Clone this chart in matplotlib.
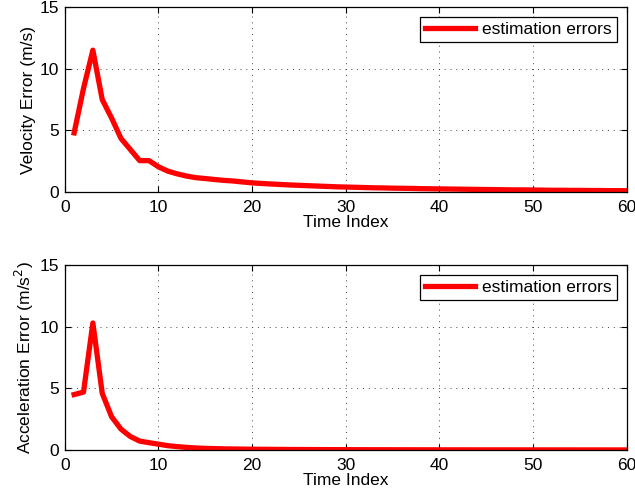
import numpy as np
import matplotlib
matplotlib.use("Agg")
import matplotlib.pyplot as plt

plt.rcParams["font.family"] = ["Liberation Sans", "DejaVu Sans"]
plt.rcParams["font.size"] = 12.5

# time index 1..60
time_index = list(range(1, 61))

# velocity estimation errors (m/s)
velocity_error = [
    4.8, 8.4, 11.5, 7.5, 6.0, 4.35, 3.45, 2.55, 2.55, 2.05,
    1.7, 1.48, 1.3, 1.17, 1.1, 1.02, 0.95, 0.9, 0.82, 0.75,
    0.7, 0.66, 0.62, 0.58, 0.55, 0.52, 0.49, 0.46, 0.43, 0.41,
    0.39, 0.37, 0.35, 0.34, 0.32, 0.31, 0.3, 0.28, 0.27, 0.26,
    0.25, 0.24, 0.23, 0.22, 0.21, 0.2, 0.19, 0.18, 0.18, 0.17,
    0.16, 0.15, 0.15, 0.14, 0.14, 0.13, 0.13, 0.12, 0.12, 0.11,
]

# acceleration estimation errors (m/s^2)
acceleration_error = [
    4.5, 4.7, 10.3, 4.6, 2.7, 1.7, 1.1, 0.73, 0.6, 0.48,
    0.36, 0.28, 0.22, 0.17, 0.14, 0.12, 0.1, 0.09, 0.08, 0.07,
    0.065, 0.06, 0.055, 0.05, 0.047, 0.044, 0.041, 0.038, 0.036, 0.034,
    0.032, 0.03, 0.029, 0.028, 0.027, 0.026, 0.025, 0.024, 0.023, 0.022,
    0.021, 0.02, 0.02, 0.019, 0.019, 0.018, 0.018, 0.017, 0.017, 0.016,
    0.016, 0.015, 0.015, 0.015, 0.014, 0.014, 0.014, 0.013, 0.013, 0.013,
]

x_ticks = [0, 10, 20, 30, 40, 50, 60]
y_ticks = [0, 5, 10, 15]

fig = plt.figure(figsize=(6.35, 4.99), dpi=100)
ax1 = fig.add_axes([0.102, 0.615, 0.885, 0.371])
ax2 = fig.add_axes([0.102, 0.098, 0.885, 0.371])

for ax, data, ylabel in [
    (ax1, velocity_error, "Velocity Error (m/s)"),
    (ax2, acceleration_error, "Acceleration Error (m/s$^2$)"),
]:
    ax.plot(time_index, data, color="red", linewidth=3.8, label="estimation errors")
    ax.set_xlim(0, 60)
    ax.set_ylim(0, 15)
    ax.set_xticks(x_ticks)
    ax.set_yticks(y_ticks)
    ax.grid(True, linestyle=(0, (1, 5)), color="#444444", linewidth=0.7)
    ax.tick_params(direction="in", length=4, width=0.8, top=True, right=True)
    ax.tick_params(axis="x", pad=6)
    ax.tick_params(axis="y", pad=4)
    for s in ax.spines.values():
        s.set_linewidth(0.9)
    ax.set_xlabel("Time Index", labelpad=0)
    ax.set_ylabel(ylabel, labelpad=3)
    leg = ax.legend(loc="upper right", fancybox=False, edgecolor="black",
                    framealpha=1, handlelength=2.9, borderaxespad=0.55,
                    handletextpad=0.4, borderpad=0.3)
    leg.get_frame().set_linewidth(0.9)

fig.savefig("out.png", dpi=100)
